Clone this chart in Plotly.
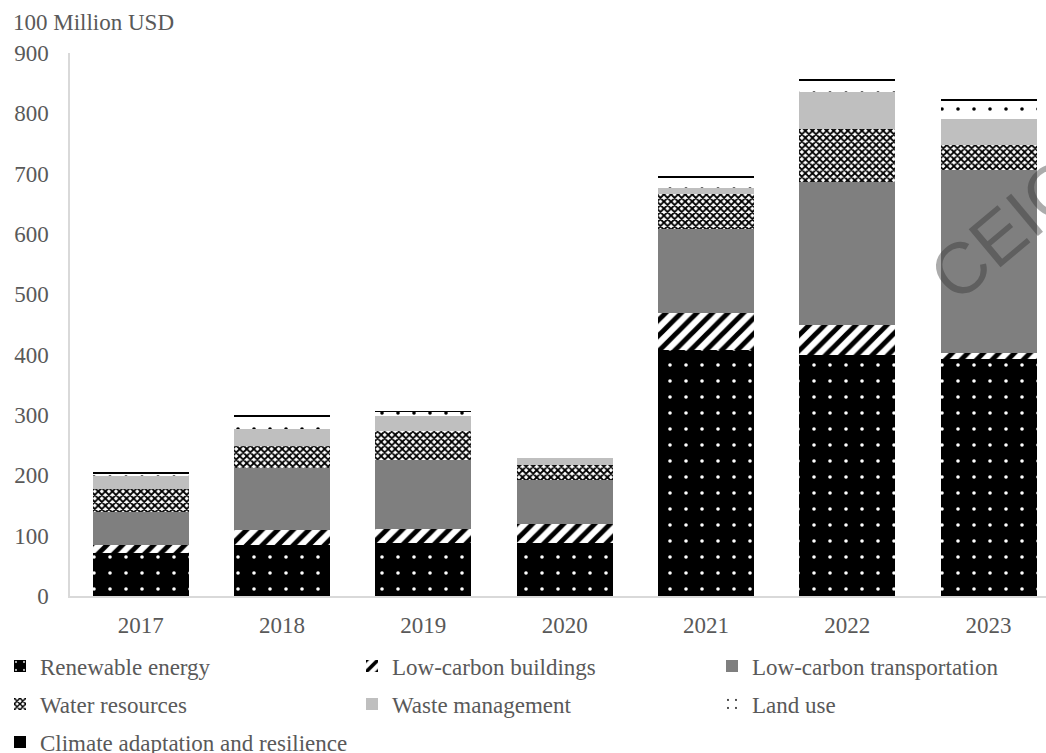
import plotly.graph_objects as go

years = ["2017", "2018", "2019", "2020", "2021", "2022", "2023"]
renewable = [72, 85, 88, 88, 408, 400, 392]
buildings = [13, 25, 23, 31, 61, 50, 11]
transport = [55, 102, 115, 74, 140, 237, 303]
water = [38, 36, 48, 24, 57, 87, 41]
waste = [21, 29, 24, 11, 10, 61, 44]
land_use = [4, 21, 7, 12, 18, 19, 30]
climate = [1.3, 1.3, 1.3, 0, 1.5, 1.3, 1.3]

FONT = "Liberation Serif, Times New Roman, serif"
TXT = "#595959"
FS = 23

series = [
    ("Renewable energy", renewable, dict(color="#000000", pattern=dict(shape=".", bgcolor="#000000", fgcolor="#FFFFFF", size=16, solidity=0.04, fillmode="replace"))),
    ("Low-carbon buildings", buildings, dict(color="#FFFFFF", pattern=dict(shape="/", bgcolor="#FFFFFF", fgcolor="#000000", size=11, solidity=0.45, fillmode="replace"))),
    ("Low-carbon transportation", transport, dict(color="#7F7F7F")),
    ("Water resources", water, dict(color="#FFFFFF", pattern=dict(shape="x", bgcolor="#FFFFFF", fgcolor="#000000", size=5, solidity=0.6, fillmode="replace"))),
    ("Waste management", waste, dict(color="#BFBFBF")),
    ("Land use", land_use, dict(color="#FFFFFF", pattern=dict(shape=".", bgcolor="#FFFFFF", fgcolor="#000000", size=16, solidity=0.04, fillmode="replace"))),
    ("Climate adaptation and resilience", climate, dict(color="#000000")),
]

# legend slot positions (text start x, text centre y) in pixels
col_x = [40, 392, 752]
row_y = [667, 705, 743]

fig = go.Figure()
legends = {}
for i, (name, vals, marker) in enumerate(series):
    marker = dict(marker)
    marker["line"] = dict(width=0)
    lg = "legend" if i == 0 else f"legend{i + 1}"
    fig.add_trace(go.Bar(x=years, y=vals, name=name, marker=marker, width=0.68, legend=lg))
    r, c = divmod(i, 3)
    legends[lg] = dict(orientation="h", x=(col_x[c] - 40) / 1046, xanchor="left",
                       y=1 - (row_y[r] - 1) / 753, yanchor="middle",
                       xref="container", yref="container", traceorder="normal",
                       font=dict(family=FONT, size=FS, color=TXT), itemwidth=30,
                       bgcolor="rgba(0,0,0,0)")

fig.update_layout(
    barmode="stack",
    width=1046, height=753,
    margin=dict(l=70, r=0, t=53, b=157),
    paper_bgcolor="white", plot_bgcolor="white",
    font=dict(family=FONT, size=FS, color=TXT),
    showlegend=True,
    xaxis=dict(range=[-0.5, 6.406], showline=True, linecolor="#D9D9D9", linewidth=1.5,
               ticks="", showgrid=False, ticklabelstandoff=8,
               tickfont=dict(family=FONT, size=FS, color=TXT)),
    yaxis=dict(range=[0, 900], dtick=100, showline=True, linecolor="#D9D9D9", linewidth=1.5,
               ticks="", showgrid=False, zeroline=False, ticklabelstandoff=15,
               tickfont=dict(family=FONT, size=FS, color=TXT)),
    **legends,
)

fig.add_annotation(text="100 Million USD", xref="paper", yref="paper", x=-59 / 976, y=1.0 + 31 / 543,
                   xanchor="left", yanchor="middle", showarrow=False,
                   font=dict(family=FONT, size=FS, color=TXT))
fig.add_annotation(text="CEIC", xref="paper", yref="paper", x=0.959, y=0.674, xanchor="center", yanchor="middle",
                   showarrow=False, textangle=-40, opacity=0.4,
                   font=dict(family="Liberation Sans, Arial", size=72, color="#303030"))

fig.write_html("out.html", config={"displayModeBar": False},
               post_script="document.body.style.margin='0';document.body.style.overflow='hidden';")
